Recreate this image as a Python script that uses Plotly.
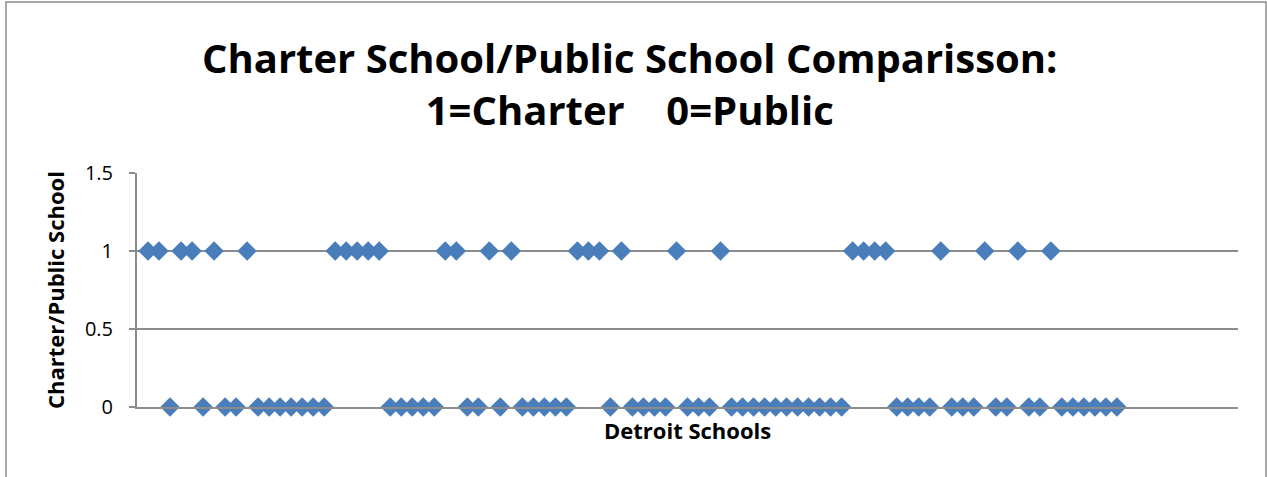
import plotly.graph_objects as go

# School index along the x axis and school type (1 = charter, 0 = public)
schools = list(range(1, 90))
school_type = [
    1, 1, 0, 1, 1, 0, 1, 0, 0, 1,
    0, 0, 0, 0, 0, 0, 0, 1, 1, 1,
    1, 1, 0, 0, 0, 0, 0, 1, 1, 0,
    0, 1, 0, 1, 0, 0, 0, 0, 0, 1,
    1, 1, 0, 1, 0, 0, 0, 0, 1, 0,
    0, 0, 1, 0, 0, 0, 0, 0, 0, 0,
    0, 0, 0, 0, 1, 1, 1, 1, 0, 0,
    0, 0, 1, 0, 0, 0, 1, 0, 0, 1,
    0, 0, 1, 0, 0, 0, 0, 0, 0,
]
y_ticks = [0, 0.5, 1, 1.5]
y_tick_text = ["0", "0.5", "1", "1.5"]

W, H = 1267, 477
L, R, T, B = 137, 1238, 173, 407
FONT = "Open Sans, sans-serif"
GRID = "#8c8c8c"


def px(x):
    return (x - L) / (R - L)


def py(y):
    return (B - y) / (B - T)


fig = go.Figure(
    go.Scatter(
        x=schools,
        y=school_type,
        mode="markers",
        marker=dict(symbol="diamond", size=15, color="#4a7ebb", line=dict(width=0)),
        cliponaxis=False,
        showlegend=False,
    )
)

fig.update_layout(
    width=W,
    height=H,
    margin=dict(l=L, r=W - R, t=T, b=H - B),
    paper_bgcolor="white",
    plot_bgcolor="white",
    font=dict(family=FONT, color="black"),
    xaxis=dict(
        range=[0, 100],
        showticklabels=False,
        showgrid=False,
        zeroline=False,
        showline=True,
        linecolor=GRID,
        linewidth=2,
        ticks="",
        fixedrange=True,
    ),
    yaxis=dict(
        range=[0, 1.5],
        tickvals=y_ticks,
        ticktext=y_tick_text,
        showgrid=True,
        gridcolor=GRID,
        gridwidth=2,
        zeroline=False,
        showline=True,
        linecolor=GRID,
        linewidth=2,
        ticks="outside",
        ticklen=6,
        tickcolor=GRID,
        tickwidth=1.5,
        tickfont=dict(size=20, family=FONT),
        ticklabelstandoff=12,
        fixedrange=True,
    ),
    annotations=[
        dict(
            text="<b>Charter School/Public School Comparisson:<br>1=Charter    0=Public</b>",
            xref="paper", yref="paper",
            x=px(630), y=py(83),
            xanchor="center", yanchor="middle",
            align="center",
            showarrow=False,
            font=dict(size=40, family=FONT),
        ),
        dict(
            text="<b>Detroit Schools</b>",
            xref="paper", yref="paper",
            x=px(687), y=py(430),
            xanchor="center", yanchor="middle",
            showarrow=False,
            font=dict(size=22, family=FONT),
        ),
        dict(
            text="<b>Charter/Public School</b>",
            xref="paper", yref="paper",
            x=px(55), y=py(290),
            xanchor="center", yanchor="middle",
            textangle=-90,
            showarrow=False,
            font=dict(size=22, family=FONT),
        ),
    ],
    shapes=[
        dict(
            type="rect",
            xref="paper", yref="paper",
            x0=px(6), x1=px(1266), y0=py(490), y1=py(2),
            line=dict(color=GRID, width=1.5),
            layer="below",
        )
    ],
)

fig.write_html("out.html")
